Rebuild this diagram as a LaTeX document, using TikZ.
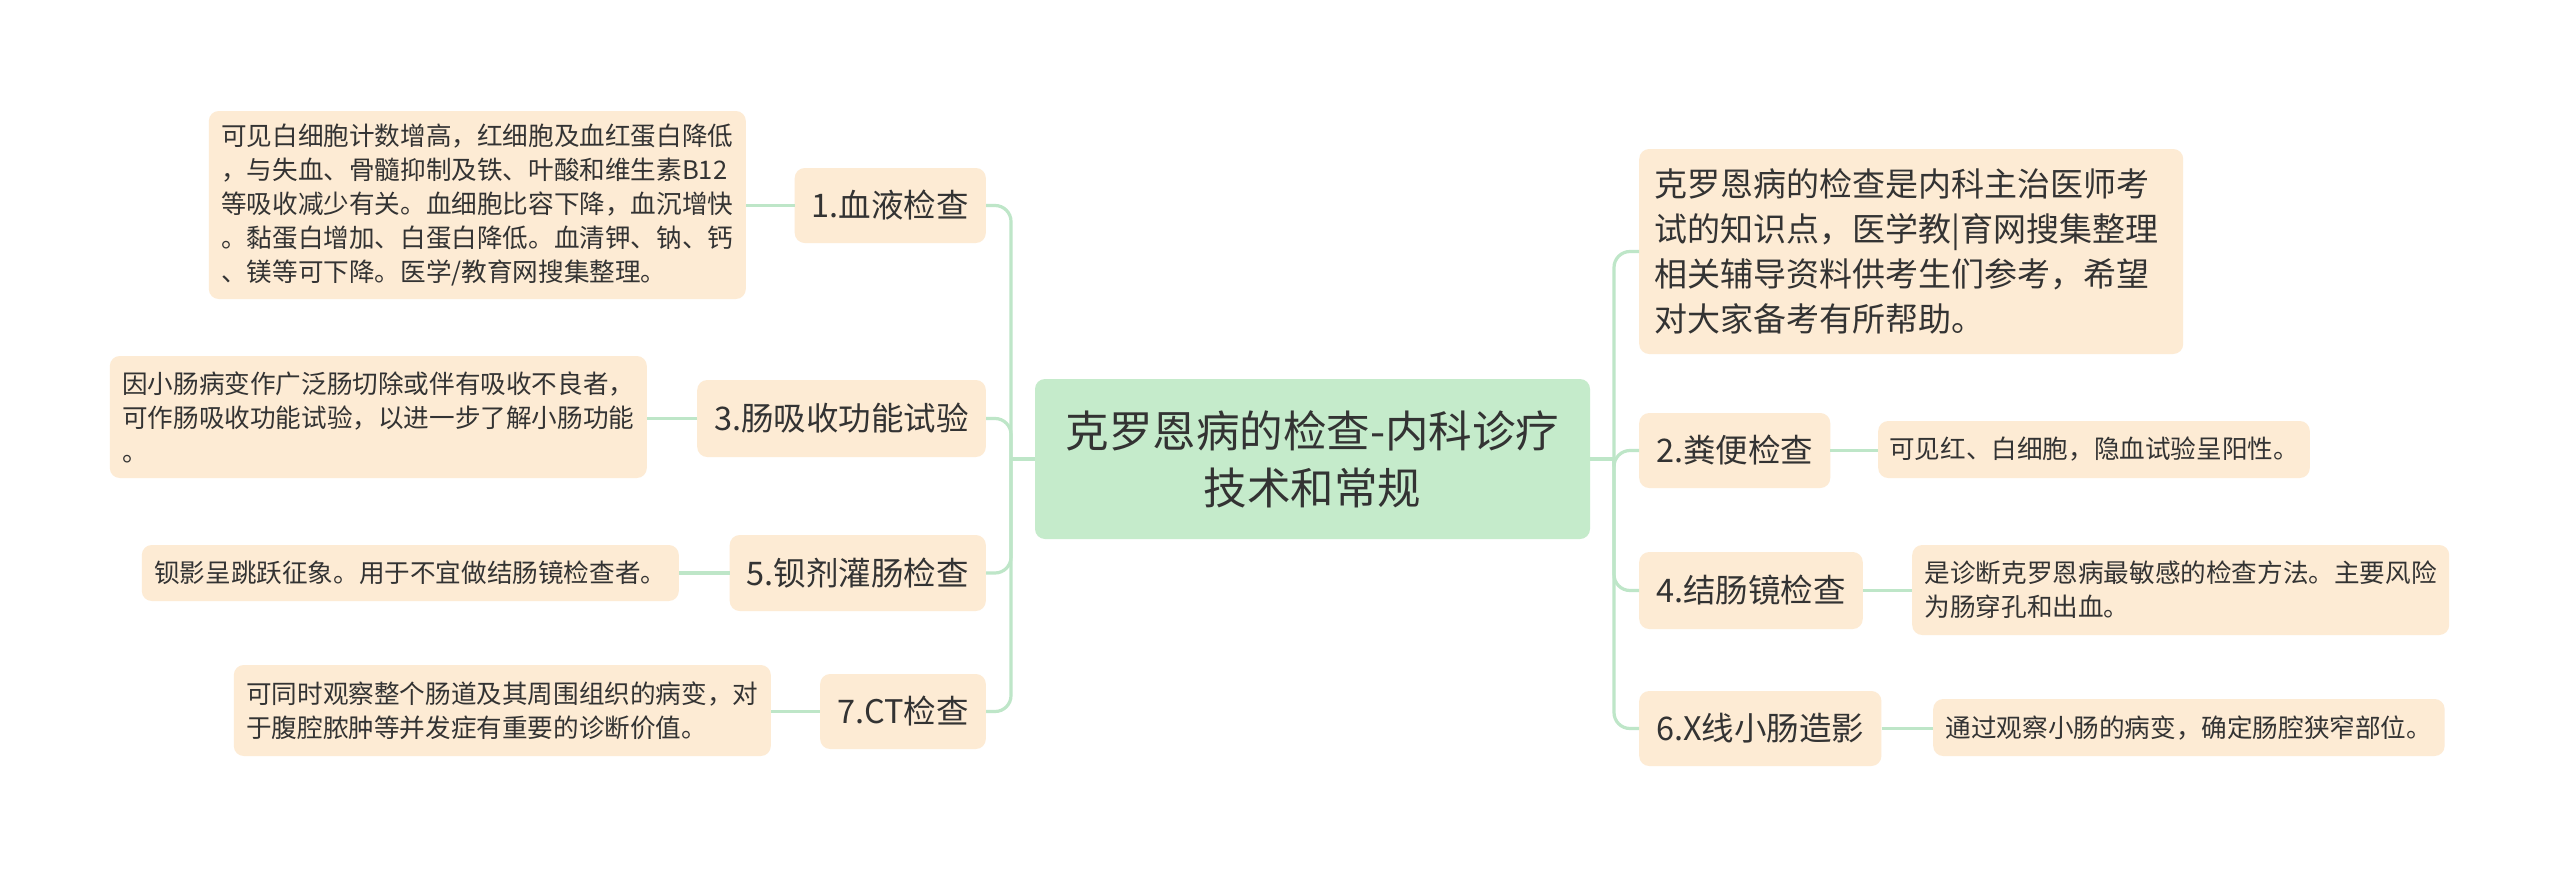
\documentclass[tikz,border=0pt]{standalone}
\usepackage{fontspec}
\setmainfont{Noto Sans CJK SC}
\definecolor{rootfill}{HTML}{C5EBCB}
\definecolor{leaffill}{HTML}{FDEBD4}
\definecolor{linec}{HTML}{BEE6C8}
\definecolor{txt}{HTML}{333333}
\tikzset{
  rootbox/.style={fill=rootfill, rounded corners=10pt, text=txt, align=center,
    minimum width=555pt, minimum height=160pt, inner sep=0pt,
    font=\fontsize{43.5}{57}\selectfont},
  catbox/.style={fill=leaffill, rounded corners=10pt, text=txt, align=left,
    inner xsep=17pt, inner ysep=0pt, minimum height=75pt,
    font=\fontsize{32.5}{42}\selectfont},
  introbox/.style={fill=leaffill, rounded corners=10pt, text=txt, align=left,
    inner xsep=15pt, inner ysep=0pt, text width=514pt, minimum height=205pt,
    font=\fontsize{33}{45}\selectfont},
  detbox/.style={fill=leaffill, rounded corners=10pt, text=txt, align=left,
    inner xsep=12.5pt, inner ysep=0pt,
    font=\fontsize{25.6}{34}\selectfont},
  conn/.style={draw=linec, line width=3.2pt},
  branch/.style={conn, rounded corners=16pt},
}
\begin{document}
\begin{tikzpicture}[x=1pt,y=-1pt]
\useasboundingbox (0,0) rectangle (2560,878);
\fill[white] (0,0) rectangle (2560,878);

% root
\node[rootbox] (root) at (1312.5,459) {克罗恩病的检查-内科诊疗\\技术和常规};

% left categories
\node[catbox, anchor=east] (c1) at (986,205.5) {1.血液检查};
\node[catbox, anchor=east, minimum height=77pt] (c3) at (986,418.5) {3.肠吸收功能试验};
\node[catbox, anchor=east, minimum height=76pt] (c5) at (986,573) {5.钡剂灌肠检查};
\node[catbox, anchor=east] (c7) at (986,711.5) {7.CT检查};

% left details
\node[detbox, anchor=east, minimum height=188pt] (d1) at (746,205) {可见白细胞计数增高，红细胞及血红蛋白降低\\，与失血、骨髓抑制及铁、叶酸和维生素B12\\等吸收减少有关。血细胞比容下降，血沉增快\\。黏蛋白增加、白蛋白降低。血清钾、钠、钙\\、镁等可下降。医学/教育网搜集整理。};
\node[detbox, anchor=east, minimum height=122pt] (d3) at (647,417) {因小肠病变作广泛肠切除或伴有吸收不良者，\\可作肠吸收功能试验，以进一步了解小肠功能\\。};
\node[detbox, anchor=east, minimum height=56pt] (d5) at (679,573) {钡影呈跳跃征象。用于不宜做结肠镜检查者。};
\node[detbox, anchor=east, minimum height=91pt] (d7) at (771,710.5) {可同时观察整个肠道及其周围组织的病变，对\\于腹腔脓肿等并发症有重要的诊断价值。};

% right
\node[introbox, anchor=west] (intro) at (1639,251.5) {克罗恩病的检查是内科主治医师考\\试的知识点，医学教|育网搜集整理\\相关辅导资料供考生们参考，希望\\对大家备考有所帮助。};
\node[catbox, anchor=west] (c2) at (1639,450.5) {2.粪便检查};
\node[catbox, anchor=west, minimum height=77pt] (c4) at (1639,590.5) {4.结肠镜检查};
\node[catbox, anchor=west] (c6) at (1639,728.5) {6.X线小肠造影};

\node[detbox, anchor=west, minimum height=57pt, inner xsep=11pt] (d2) at (1878,449.5) {可见红、白细胞，隐血试验呈阳性。};
\node[detbox, anchor=west, minimum height=90pt] (d4) at (1912,590) {是诊断克罗恩病最敏感的检查方法。主要风险\\为肠穿孔和出血。};
\node[detbox, anchor=west, minimum height=57pt] (d6) at (1933,727.5) {通过观察小肠的病变，确定肠腔狭窄部位。};

% trunk junctions
\coordinate (LT) at (1011,459);
\coordinate (RT) at (1614,459);

\draw[conn] (root.west) -- (LT);
\draw[conn] (root.east) -- (RT);

\draw[branch] (LT) |- (c1.east);
\draw[branch] (LT) |- (c3.east);
\draw[branch] (LT) |- (c5.east);
\draw[branch] (LT) |- (c7.east);

\draw[branch] (RT) |- (intro.west);
\draw[branch] (RT) |- (c2.west);
\draw[branch] (RT) |- (c4.west);
\draw[branch] (RT) |- (c6.west);

% category to detail
\draw[conn] (c1.west) -- (c1.west -| d1.east);
\draw[conn] (c3.west) -- (c3.west -| d3.east);
\draw[conn] (c5.west) -- (c5.west -| d5.east);
\draw[conn] (c7.west) -- (c7.west -| d7.east);
\draw[conn] (c2.east) -- (c2.east -| d2.west);
\draw[conn] (c4.east) -- (c4.east -| d4.west);
\draw[conn] (c6.east) -- (c6.east -| d6.west);
\end{tikzpicture}
\end{document}
